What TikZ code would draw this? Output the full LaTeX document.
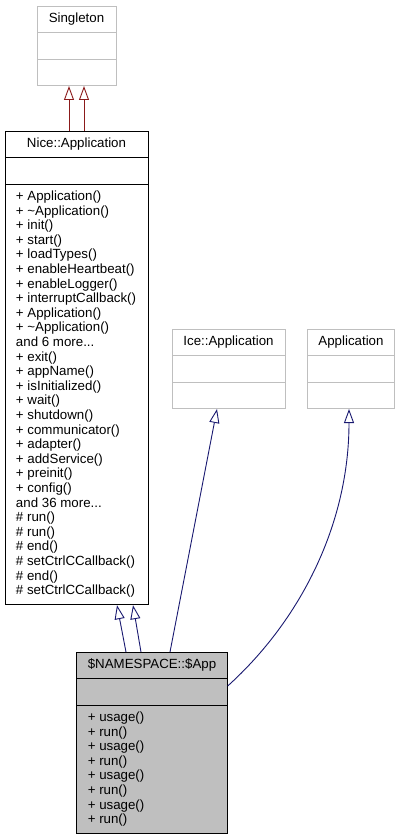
\documentclass[tikz,border=0pt]{standalone}
\usepackage{fontspec}
\setmainfont{Liberation Sans}
\usetikzlibrary{shapes.multipart,arrows.meta}
\definecolor{edgeblue}{HTML}{191970}
\definecolor{edgered}{HTML}{8B1A1A}
\definecolor{boxgrey}{HTML}{BFBFBF}
\newcommand{\emptypart}{\rule{0pt}{15.6pt}}
\tikzset{
  classbox/.style={rectangle split, rectangle split parts=3, draw, anchor=north,
    font=\fontsize{13.3}{14.6}\selectfont, align=left, inner xsep=11pt, inner ysep=5.2pt,
    rectangle split part align={center,left,left}, line width=1pt},
  extbox/.style={classbox, draw=boxgrey},
  focusbox/.style={classbox, fill=boxgrey},
  inherit/.style={-{Triangle[open,length=14pt,width=10pt]}, line width=0.9pt, edgeblue},
  inheritred/.style={inherit, edgered},
}

\begin{document}
\begin{tikzpicture}[x=1pt,y=-1pt]
\useasboundingbox (0,0) rectangle (401,837);

\node (single) at (76.5,6) [extbox, minimum width=79pt] {\strut Singleton
  \nodepart{second}\emptypart \nodepart{third}\strut};
\node (nice) at (76.5,131) [classbox, minimum width=143pt] {\strut Nice::Application
  \nodepart{second}\emptypart
  \nodepart{third}\strut + Application()\\
  + \textasciitilde Application()\\
  + init()\\
  + start()\\
  + loadTypes()\\
  + enableHeartbeat()\\
  + enableLogger()\\
  + interruptCallback()\\
  + Application()\\
  + \textasciitilde Application()\\
  and 6 more...\\
  + exit()\\
  + appName()\\
  + isInitialized()\\
  + wait()\\
  + shutdown()\\
  + communicator()\\
  + adapter()\\
  + addService()\\
  + preinit()\\
  + config()\\
  and 36 more...\\
  \# run()\\
  \# run()\\
  \# end()\\
  \# setCtrlCCallback()\\
  \# end()\\
  \# setCtrlCCallback()\strut};
\node (ice) at (228.5,329) [extbox, minimum width=113pt] {\strut Ice::Application
  \nodepart{second}\emptypart \nodepart{third}\strut};
\node (appl) at (351,329) [extbox, minimum width=84pt] {\strut Application
  \nodepart{second}\emptypart \nodepart{third}\strut};
\node (app) at (152,652) [focusbox, minimum width=150pt] {\strut \$NAMESPACE::\$App
  \nodepart{second}\emptypart
  \nodepart{third}\strut + usage()\\
  + run()\\
  + usage()\\
  + run()\\
  + usage()\\
  + run()\\
  + usage()\\
  + run()\strut};

% inheritance edges
\draw [inheritred] ([xshift=-7.5pt]nice.north) -- ([xshift=-7.5pt]single.south);
\draw [inheritred] ([xshift=7.5pt]nice.north) -- ([xshift=7.5pt]single.south);
\draw [inherit] ([xshift=-26pt]app.north) -- ([xshift=40.5pt]nice.south);
\draw [inherit] ([xshift=-11pt]app.north) -- ([xshift=56.5pt]nice.south);
\draw [inherit] ([xshift=18pt]app.north) -- ([xshift=-11.5pt]ice.south);
\draw [inherit] ([yshift=-34pt]app.north east) .. controls +(73,-66) and +(0,115) .. ([xshift=-2pt]appl.south);
\end{tikzpicture}
\end{document}
